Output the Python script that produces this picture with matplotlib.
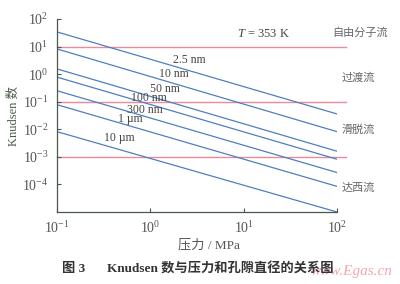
import numpy as np
import matplotlib
matplotlib.use('Agg')
import matplotlib.pyplot as plt

# pore diameters and Knudsen number read at P = 0.1 MPa and P = 100 MPa
pore_labels = ['2.5 nm', '10 nm', '50 nm', '100 nm', '300 nm', '1 \u00b5m', '10 \u00b5m']
kn_at_01 = [34, 8.2, 1.55, 0.78, 0.25, 0.078, 0.0082]
kn_at_100 = [0.036, 0.0082, 0.0016, 0.00082, 0.00027, 8.5e-5, 1e-5]
p_ends = [0.1, 100]

# flow regime boundaries
regime_kn = [10, 0.1, 0.001]
regime_names = ['自由分子流', '过渡流', '滑脱流', '达西流']

x_ticks = [0.1, 1, 10, 100]
y_ticks = [1e-4, 1e-3, 1e-2, 1e-1, 1, 10, 100]

plt.rcParams['mathtext.fontset'] = 'custom'
plt.rcParams['mathtext.rm'] = 'Liberation Serif'
plt.rcParams['mathtext.it'] = 'Liberation Serif:italic'
serif = ['Liberation Serif', 'Noto Sans CJK SC']
cjk = ['Noto Sans CJK SC', 'Liberation Serif']

W, H = 400, 284
fig = plt.figure(figsize=(W / 100, H / 100), dpi=100)
ax = fig.add_axes([57 / W, 1 - 212 / H, 280 / W, 193 / H])


def px(x, y):
    # pixel position in the picture -> figure fraction
    return x / W, 1 - y / H


blue = '#4f7fbf'
pink = '#ec8a9c'
grey = '#555555'

for k in regime_kn:
    ax.plot([0.1, 125], [k, k], color=pink, lw=1.0, clip_on=False, zorder=1)

for a, b in zip(kn_at_01, kn_at_100):
    ax.plot(p_ends, [a, b], color=blue, lw=0.9, zorder=2)

ax.set_xscale('log')
ax.set_yscale('log')
ax.set_xlim(0.1, 100)
ax.set_ylim(1e-5, 100)
ax.set_xticks(x_ticks)
ax.set_yticks(y_ticks)
ax.set_xticklabels([r'$10^{%d}$' % int(np.log10(v)) for v in x_ticks])
ax.set_yticklabels([r'$10^{%d}$' % int(np.log10(v)) for v in y_ticks])
ax.minorticks_off()
ax.tick_params(direction='in', length=3, width=0.8, color='#4a5a4a',
               labelsize=10, labelcolor=grey, pad=6)
for s in ['top', 'right']:
    ax.spines[s].set_visible(False)
for s in ['left', 'bottom']:
    ax.spines[s].set_color('#4a5a4a')
    ax.spines[s].set_linewidth(0.9)

# line labels
label_pos = [(189, 60), (174, 74), (165, 89), (149, 98), (145, 110), (130, 119), (119, 138)]
for name, (x, y) in zip(pore_labels, label_pos):
    fig.text(*px(x, y), name, ha='center', va='center', fontsize=8.5,
             family=serif, color='#444444')

fig.text(*px(263, 34), r'$T$ = 353 K', ha='center', va='center', fontsize=9,
         family=serif, color='#444444')

regime_pos = [(332, 33), (342, 78), (342, 130), (342, 188)]
for name, (x, y) in zip(regime_names, regime_pos):
    fig.text(*px(x, y), name, ha='left', va='center', fontsize=8,
             family=cjk, color='#666666')

fig.text(*px(14, 116), 'Knudsen 数', rotation=90, ha='center', va='center',
         fontsize=9, family=serif, color='#4a5a4a')
fig.text(*px(209, 245), '压力 / MPa', ha='center', va='center', fontsize=9.5,
         family=serif, color='#555555')

fig.text(*px(352, 272), 'www.Egas.cn', ha='center', va='center', fontsize=11,
         family='Liberation Serif', style='italic', color='#f4a6b0', zorder=0)
fig.text(*px(74, 269), '图 3', ha='center', va='center', fontsize=9.5,
         family=serif, weight='bold', color='#333333')
fig.text(*px(220, 269), 'Knudsen 数与压力和孔隙直径的关系图', ha='center',
         va='center', fontsize=9.5, family=serif, weight='bold', color='#333333')

fig.savefig('out.png', dpi=100)
